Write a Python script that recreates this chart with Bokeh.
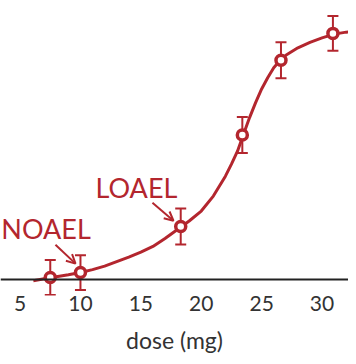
from bokeh.plotting import figure
from bokeh.models import ColumnDataSource, Whisker, TeeHead, Arrow, OpenHead, Span, Range1d, FixedTicker
from bokeh.core.properties import value
from bokeh.embed import file_html
from bokeh.resources import INLINE

# measured points
dose = [7.5, 10.0, 18.3, 23.4, 26.6, 30.9]
response = [0.8, 2.8, 21.3, 58.0, 88.0, 98.8]
err = [7.0, 7.0, 7.2, 7.2, 7.2, 7.0]

# fitted curve
curve_dose = [6.1, 7, 8, 9, 10, 11, 12, 13, 14, 15, 16, 17, 18, 19, 20, 21, 22, 22.5, 23,
              23.5, 24, 24.5, 25, 25.5, 26, 26.5, 27, 28, 29, 30, 31, 32, 32.9]
curve_resp = [-0.5, 0.3, 1.1, 1.9, 2.8, 4.0, 5.4, 7.2, 9.0, 11.0, 13.3, 16.5, 20.0, 23.5,
              27.5, 33.5, 41.5, 46.3, 51.5, 58.3, 65.0, 71.0, 76.5, 81.0, 85.0, 87.8, 90.0,
              93.0, 95.2, 97.0, 98.5, 99.3, 99.6]

ticks = [5, 10, 15, 20, 25, 30]

annotations = ["NOAEL", "LOAEL"]
ann_x = [3.45, 11.25]
ann_y = [20.4, 37.0]
arrow_start = [(7.93, 14.0), (15.96, 30.8)]
arrow_end = [(9.59, 6.4), (17.7, 23.6)]

RED = "#b3262e"
FONT = "Lato"

p = figure(width=348, height=356, output_backend="svg", toolbar_location=None,
           x_range=Range1d(3.38, 32.19), y_range=Range1d(-6.4, 112.0),
           min_border_left=0, min_border_right=0, min_border_top=0, min_border_bottom=60,
           y_axis_location=None)
p.outline_line_color = None
p.grid.visible = False

ax = p.xaxis[0]
ax.ticker = FixedTicker(ticks=ticks)
ax.axis_line_color = None
ax.major_tick_line_color = None
ax.minor_tick_line_color = None
ax.major_tick_out = 0
ax.major_tick_in = 0
ax.major_label_standoff = 0
ax.major_label_text_font = FONT
ax.major_label_text_font_size = "21px"
ax.major_label_text_color = "#333333"
ax.axis_label = "dose (mg)"
ax.axis_label_text_font = FONT
ax.axis_label_text_font_style = "normal"
ax.axis_label_text_font_size = "23px"
ax.axis_label_text_color = "#333333"
ax.axis_label_standoff = 12

p.add_layout(Span(location=0, dimension="width", line_color="#222222", line_width=2))

p.line(curve_dose, curve_resp, line_color=RED, line_width=3)

src = ColumnDataSource(dict(x=dose, y=response,
                            lo=[r - e for r, e in zip(response, err)],
                            hi=[r + e for r, e in zip(response, err)]))
p.add_layout(Whisker(source=src, base="x", lower="lo", upper="hi", line_color=RED, line_width=2,
                     upper_head=TeeHead(size=11, line_color=RED, line_width=2),
                     lower_head=TeeHead(size=11, line_color=RED, line_width=2)))
p.scatter("x", "y", source=src, size=10, line_color=RED, line_width=3.5, fill_color="white")

p.text(x=ann_x, y=ann_y, text=annotations, text_align="left",
       text_baseline="middle", text_color=RED, text_font=value(FONT), text_font_size="27px")

for (x0, y0), (x1, y1) in zip(arrow_start, arrow_end):
    p.add_layout(Arrow(x_start=x0, y_start=y0, x_end=x1, y_end=y1, line_color=RED, line_width=2,
                       end=OpenHead(size=9, line_color=RED, line_width=2)))

open("out.html", "w").write(file_html(p, INLINE))
